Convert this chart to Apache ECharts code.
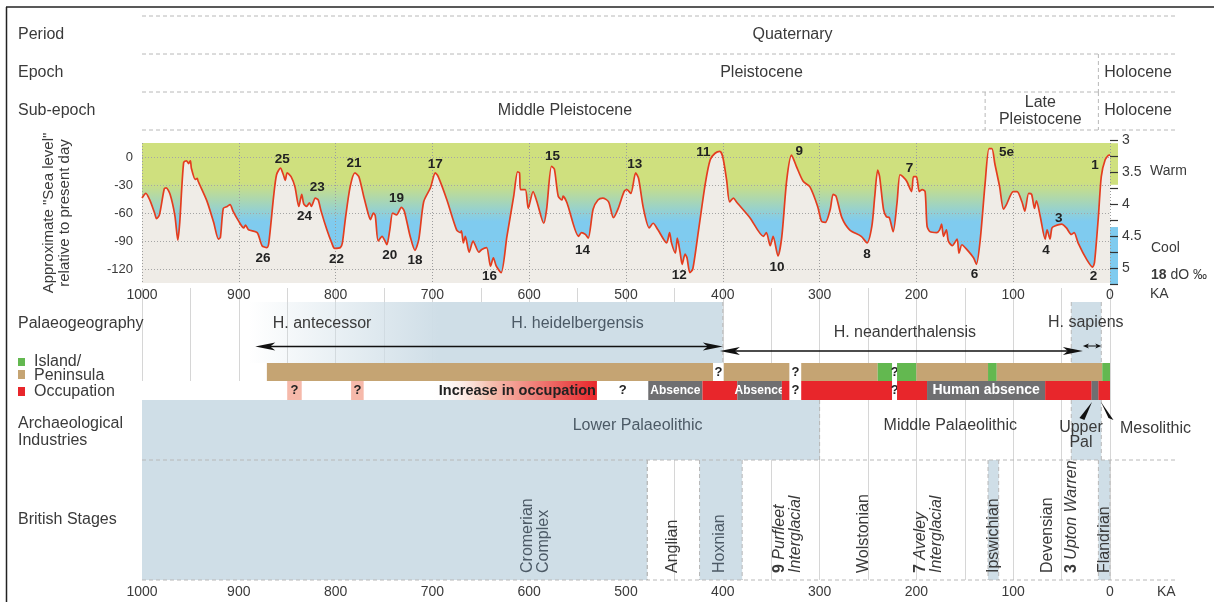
<!DOCTYPE html>
<html>
<head>
<meta charset="utf-8">
<script src="https://cdn.jsdelivr.net/npm/echarts@6.0.0/dist/echarts.min.js"></script>
<style>
html,body{margin:0;padding:0;background:#fff;}
#chart{width:1214px;height:602px;}
</style>
</head>
<body>
<div id="chart"></div>
<script>
// ================= DATA =================
const kaTicks = [1000, 900, 800, 700, 600, 500, 400, 300, 200, 100, 0];
const gridKa = [1000, 950, 900, 850, 800, 750, 700, 650, 600, 550, 500, 450, 400, 350, 300, 250, 200, 150, 100, 50, 0];
const seaLevelTicks = [-120, -90, -60, -30, 0];
const d18OTicks = [3, 3.5, 4, 4.5, 5];

// [ka, approximate sea level (m) relative to present day]
const seaLevelCurve = [
 [1000,-44],[996,-39],[992,-46],[987,-60],[985,-66],[982,-62],[977,-34],[975,-33],[971,-40],[966,-63],
 [963,-89],[961,-70],[957,-6],[954,-4],[952,-7],[950,-4],[949,-12],[945,-24],[943,-23],[942,-26],
 [933,-47],[926,-70],[921,-88],[919,-86],[916,-55],[912,-53],[909,-51],[906,-58],[900,-69],[895,-76],
 [893,-73],[890,-78],[881,-81],[876,-95],[871,-97],[869,-92],[864,-42],[861,-19],[857,-12],[854,-19],
 [852,-25],[850,-17],[846,-21],[842,-32],[838,-53],[835,-40],[833,-50],[830,-53],[827,-49],[825,-53],
 [821,-44],[818,-46],[815,-58],[809,-78],[804,-92],[801,-98],[795,-97],[793,-92],[790,-67],[785,-32],
 [780,-17],[776,-21],[771,-42],[766,-62],[764,-67],[761,-60],[759,-63],[756,-90],[752,-85],[749,-90],
 [747,-94],[744,-78],[741,-60],[737,-62],[732,-54],[729,-58],[723,-85],[718,-100],[714,-88],[709,-48],
 [702,-33],[697,-17],[694,-21],[685,-46],[675,-78],[671,-81],[670,-79],[668,-92],[666,-85],[662,-102],
 [658,-90],[652,-102],[649,-99],[644,-97],[640,-117],[637,-108],[634,-117],[629,-124],[623,-85],[616,-42],
 [612,-16],[610,-17],[609,-35],[604,-35],[601,-55],[596,-37],[592,-48],[585,-71],[582,-56],[577,-10],
 [574,-13],[570,-42],[566,-46],[565,-42],[561,-49],[549,-85],[546,-81],[542,-83],[539,-87],[534,-56],
 [529,-46],[524,-44],[518,-48],[513,-65],[508,-55],[502,-37],[499,-35],[495,-39],[490,-17],[487,-23],
 [482,-55],[476,-76],[472,-71],[467,-78],[458,-92],[455,-81],[453,-92],[449,-103],[447,-87],[444,-103],
 [442,-115],[439,-104],[437,-108],[434,-124],[431,-120],[425,-78],[418,-28],[413,-3],[408,4],[403,6],
 [400,0],[396,-25],[393,-48],[389,-44],[386,-48],[372,-65],[358,-85],[355,-81],[351,-95],[348,-85],
 [343,-106],[339,-85],[334,-25],[329,2],[324,-10],[317,-26],[310,-32],[302,-53],[298,-69],[294,-70],
 [289,-56],[286,-40],[283,-42],[277,-65],[269,-78],[257,-85],[251,-92],[246,-74],[243,-42],[240,-14],
 [238,-21],[234,-56],[231,-64],[228,-65],[224,-80],[220,-49],[217,-19],[214,-21],[210,-26],[205,-37],
 [203,-21],[200,-21],[197,-37],[194,-35],[191,-37],[189,-74],[186,-80],[179,-81],[176,-78],[174,-72],
 [172,-85],[169,-78],[167,-90],[163,-95],[158,-88],[156,-103],[153,-94],[148,-99],[141,-108],[138,-115],
 [134,-88],[129,-28],[125,9],[122,9],[119,-7],[114,-32],[110,-56],[107,-51],[100,-37],[96,-37],
 [91,-48],[88,-58],[84,-39],[81,-40],[78,-55],[76,-47],[72,-64],[67,-88],[65,-78],[62,-88],
 [60,-76],[57,-74],[50,-72],[45,-76],[40,-83],[37,-81],[33,-92],[24,-110],[18,-118],[16,-113],
 [12,-64],[9,-21],[5,-3],[1,2],[0,2]
];

// Marine isotope stage labels: name, ka, sea level position
const misNames = ['25','26','24','23','21','22','20','19','18','17','16','15','14','13','12','11','10','9','8','7','6','5e','4','3','2','1'];
const misKa    = [855, 875, 832, 819, 781, 799, 744, 737, 718, 697, 641, 576, 545, 491, 445, 420, 344, 321, 251, 207, 140, 107, 66, 53, 17, 15.5];
const misLevel = [-2.5, -108, -63.5, -32.5, -7, -110, -105, -44, -111, -8, -127.5, 0.3, -100, -7.5, -127, 4.6, -118.6, 5.7, -104, -12, -125.4, 4.6, -99.6, -65.7, -128, -8.6];

// d18O scale colour bands (warm / cool)
const warmBand = [3.05, 3.70];
const coolBand = [4.36, 5.25];

// Geological time table (ka)
const periodCells   = [{name:'Quaternary', from:1000, to:-67.15, at:328}];
const epochCells    = [{name:'Pleistocene', from:1000, to:12, at:360}, {name:'Holocene', from:12, to:-67.15, at:-29}];
const subEpochCells = [{name:'Middle Pleistocene', from:1000, to:129, at:563}, {name:'Late\nPleistocene', from:129, to:12, at:72}, {name:'Holocene', from:12, to:-67.15, at:-29}];

// Hominins
const hominins = [
  {name:'H. antecessor', at:814},
  {name:'H. heidelbergensis', at:550},
  {name:'H. neanderthalensis', at:212},
  {name:'H. sapiens', at:25}
];
const heidelbergRange = {from:890, to:400};
const sapiensRange = {from:40, to:9};
const homininArrows = [{from:883, to:400}, {from:403, to:28}, {from:28, to:9}];

// Palaeogeography: Island / Peninsula
const geography = [
  {from:871, to:410, state:'peninsula'}, {from:410, to:399, state:'unknown'},
  {from:399, to:331, state:'peninsula'}, {from:331, to:319, state:'unknown'},
  {from:319, to:240, state:'peninsula'}, {from:240, to:225, state:'island'},
  {from:225, to:220, state:'unknown'},   {from:220, to:200, state:'island'},
  {from:200, to:126, state:'peninsula'}, {from:126, to:117, state:'island'},
  {from:117, to:8, state:'peninsula'},   {from:8, to:0, state:'island'}
];

// Occupation
const occupation = [
  {from:850, to:835, state:'uncertain'},
  {from:784, to:771, state:'uncertain'},
  {from:703, to:530, state:'increase', label:'Increase in occupation'},
  {from:530, to:477, state:'unknown'},
  {from:477, to:421, state:'absent', label:'Absence'},
  {from:421, to:385, state:'present'},
  {from:385, to:339, state:'absent', label:'Absence'},
  {from:339, to:331, state:'present'},
  {from:331, to:319, state:'unknown'},
  {from:319, to:225, state:'present'},
  {from:225, to:220, state:'unknown'},
  {from:220, to:189, state:'present'},
  {from:189, to:67, state:'absent', label:'Human absence'},
  {from:67, to:19, state:'present'},
  {from:19, to:12, state:'absent'},
  {from:12, to:0, state:'present'}
];

// Archaeological industries
const industries = [
  {name:'Lower Palaeolithic', from:1000, to:300, at:488, boxed:true},
  {name:'Middle Palaeolithic', from:300, to:40, at:165},
  {name:'Upper\nPal', from:40, to:12, at:30},
  {name:'Mesolithic', from:12, to:0, at:-47}
];
const industryPointers = [{tip:18.6, base:29}, {tip:9.3, base:-1}];

// British stages
const stages = [
  {name:'Cromerian\nComplex', at:593, from:1000, to:478, warm:true},
  {name:'Anglian', at:452, from:478, to:424},
  {name:'Hoxnian', at:403, from:424, to:380, warm:true},
  {name:'{b|9} {i|Purfleet}\n{i|Interglacial}', at:333},
  {name:'Wolstonian', at:255},
  {name:'{b|7} {i|Aveley}\n{i|Interglacial}', at:187},
  {name:'Ipswichian', at:120.5, from:126, to:115, warm:true},
  {name:'Devensian', at:64},
  {name:'{b|3} {i|Upton Warren}', at:40},
  {name:'Flandrian', at:6, from:12, to:0, warm:true}
];

// ================= LAYOUT / STYLE =================
const KA_END = -67.15;                 // right end of the tables
const FONT = '"Liberation Sans", Arial, Helvetica, sans-serif';
const TXT = '#3a3a3a';
const SLATE = '#4c5a66';
const C = {blue:'#cfdee7', tan:'#c5a473', green:'#63b850', red:'#e8262b', gray:'#6f6f71',
           salmon:'#f6b9aa', dash:'#b8b8b8', warm:'#cfe07e', cool:'#7fcbef', fill:'#efece7', line:'#e43d1f'};
// lower panel rows (axis units, 0 = top of lower panel)
const R = {hTop:14, geoTop:75, geoBot:93, occTop:93, occBot:112, indTop:112, indBot:172, stTop:172, stBot:292};
const HOM_Y = [36, 36, 45, 35];
const ARROW_Y = [58.5, 63, 58];
const ARROW_HEAD = [20, 20, 6];

const f = (size, weight, style) => `${style || 'normal'} ${weight || 'normal'} ${size}px ${FONT}`;
const dashStyle = {stroke: C.dash, lineWidth: 1, lineDash: [4, 3]};
const plainNumber = v => String(v);

function rect(api, a, b, y0, y1, style) {
  const p = api.coord([a, y0]), q = api.coord([b, y1]);
  return {type:'rect', shape:{x:Math.min(p[0],q[0]), y:Math.min(p[1],q[1]), width:Math.abs(q[0]-p[0]), height:Math.abs(q[1]-p[1])}, style};
}
function seg(api, a, y0, b, y1, style) {
  const p = api.coord([a, y0]), q = api.coord([b, y1]);
  return {type:'line', shape:{x1:p[0], y1:p[1], x2:q[0], y2:q[1]}, style};
}
function label(api, ka, y, text, o) {
  o = o || {};
  const p = api.coord([ka, y]);
  const al = o.align || 'center';
  const st = {text, font: f(o.size || 16, o.weight, o.italic), fill: o.color || TXT,
    textAlign: al, align: al, textVerticalAlign: 'middle', verticalAlign: 'middle', lineHeight: o.lineHeight || 17};
  if (o.rich) st.rich = o.rich;
  return {type:'text', x:p[0] + (o.dx || 0), y:p[1] + (o.dy || 0), rotation: o.rotation || 0, style: st};
}
function layer(gi, items, draw, z) {
  return {type:'custom', coordinateSystem:'cartesian2d', xAxisIndex:gi, yAxisIndex:gi, z:z, silent:true, clip:false, animation:false,
    data: items.map((_, i) => [i, 0]),
    renderItem: (params, api) => ({type:'group', children: [].concat(draw(items[params.dataIndex], api, params.dataIndex) || [])})};
}

// ================= SERIES =================
const series = [];

// --- sea level curve (grid 0)
series.push({type:'line', xAxisIndex:0, yAxisIndex:0, data:seaLevelCurve, symbol:'none', smooth:0.25, silent:true, animation:false,
  lineStyle:{width:0, opacity:0}, areaStyle:{color:C.fill, opacity:1, origin:'start'}, z:2});
series.push({type:'line', xAxisIndex:0, yAxisIndex:0, data:seaLevelCurve, symbol:'none', smooth:0.25, silent:true, animation:false,
  lineStyle:{color:C.line, width:1.7}, z:5});
series.push(layer(0, misNames, (n, api, i) => label(api, misKa[i], misLevel[i], n, {size:13.5, weight:'bold', color:'#222'}), 6));

// --- d18O colour bar (grid 1)
series.push(layer(1, [warmBand, coolBand], (b, api, i) => rect(api, 0, 1, b[0], b[1], {fill: i === 0 ? C.warm : C.cool}), 1));

// --- time table (grid 2)
const tableRows = [periodCells, epochCells, subEpochCells];
series.push(layer(2, [0, 1, 2, 3], (r, api) => seg(api, 1000, r, KA_END, r, dashStyle), 2));
series.push(layer(2, tableRows, (cells, api, r) => {
  const out = [];
  cells.forEach(c => {
    out.push(label(api, c.at, r + 0.5, c.name, {size:16, lineHeight:17}));
    if (c.to > KA_END) out.push(seg(api, c.to, r, c.to, r + 1, dashStyle));
  });
  return out;
}, 3));

// --- lower panel (grid 3)
// white row behind occupation
series.push(layer(3, [0], (d, api) => rect(api, 1000, 0, R.occTop, R.occBot, {fill:'#fff'}), 1));
// hominin boxes
series.push(layer(3, [heidelbergRange], (d, api) => [
  rect(api, d.from, d.to, R.hTop, R.geoTop, {fill: new echarts.graphic.LinearGradient(0, 0, 1, 0, [
    {offset:0, color:'rgba(207,222,231,0)'}, {offset:0.4, color:C.blue}, {offset:1, color:C.blue}])}),
  seg(api, d.to, R.hTop, d.to, R.geoTop, dashStyle)
], 1));
series.push(layer(3, [sapiensRange], (d, api) => [
  rect(api, d.from, d.to, R.hTop, R.indBot, {fill:C.blue}),
  seg(api, d.from, R.hTop, d.from, R.indBot, dashStyle),
  seg(api, d.to, R.hTop, d.to, R.indBot, dashStyle)
], 1));
// industries boxes
series.push(layer(3, industries.filter(d => d.boxed), (d, api) => [
  rect(api, d.from, d.to, R.indTop, R.indBot, {fill:C.blue}),
  seg(api, d.to, R.indTop, d.to, R.indBot, dashStyle)
], 1));
// stage boxes + boundaries
series.push(layer(3, stages.filter(d => d.from !== undefined), (d, api) => {
  const out = [];
  if (d.warm) out.push(rect(api, d.from, d.to, R.stTop, R.stBot, {fill:C.blue}));
  if (d.from < 1000) out.push(seg(api, d.from, R.stTop, d.from, R.stBot, dashStyle));
  out.push(seg(api, d.to, R.stTop, d.to, R.stBot, dashStyle));
  return out;
}, 1));
// stage horizontal dashed lines
series.push(layer(3, [R.stTop, R.stBot], (y, api) => seg(api, 1000, y, KA_END, y, dashStyle), 2));

// geography bar
series.push(layer(3, geography, (d, api) => {
  if (d.state === 'unknown') return [
    rect(api, d.from, d.to, R.geoTop, R.geoBot, {fill:'#fff'}),
    label(api, (d.from + d.to) / 2, (R.geoTop + R.geoBot) / 2, '?', {size:13, weight:'bold', color:'#222'})];
  return rect(api, d.from, d.to, R.geoTop, R.geoBot, {fill: d.state === 'island' ? C.green : C.tan});
}, 3));
// occupation bar
series.push(layer(3, occupation, (d, api) => {
  const yc = (R.occTop + R.occBot) / 2;
  const mid = (d.from + d.to) / 2;
  if (d.state === 'unknown') return [
    rect(api, d.from, d.to, R.occTop, R.occBot, {fill:'#fff'}),
    label(api, mid, yc, '?', {size:13, weight:'bold', color:'#222'})];
  if (d.state === 'uncertain') return [
    rect(api, d.from, d.to, R.occTop, R.occBot, {fill:C.salmon}),
    label(api, mid, yc, '?', {size:13, weight:'bold', color:'#222'})];
  if (d.state === 'increase') return [
    rect(api, d.from, d.to, R.occTop, R.occBot, {fill: new echarts.graphic.LinearGradient(0, 0, 1, 0, [
      {offset:0, color:'rgba(255,255,255,0)'}, {offset:0.35, color:'#f6c3b3'}, {offset:1, color:C.red}])}),
    label(api, d.to, yc, d.label, {size:14.5, weight:'bold', color:'#222', align:'right', dx:-1})];
  const out = [rect(api, d.from, d.to, R.occTop, R.occBot, {fill: d.state === 'absent' ? C.gray : C.red})];
  if (d.label) out.push(label(api, mid, yc, d.label, {size: d.label.length > 8 ? 14 : 12, weight:'bold', color:'#fff'}));
  return out;
}, 3));

// hominin names
series.push(layer(3, hominins, (d, api, i) => label(api, d.at, HOM_Y[i], d.name, {size:16, color: i === 1 ? SLATE : TXT}), 4));
// hominin arrows
series.push(layer(3, homininArrows, (d, api, i) => {
  const a = api.coord([d.from, ARROW_Y[i]]), b = api.coord([d.to, ARROW_Y[i]]);
  const h = ARROW_HEAD[i], w = i === 2 ? 2.5 : 4;
  const lw = i === 2 ? 1 : 1.6;
  return [
    {type:'line', shape:{x1:a[0] + h * 0.6, y1:a[1], x2:b[0] - h * 0.6, y2:b[1]}, style:{stroke:'#111', lineWidth:lw}},
    {type:'polygon', shape:{points:[[a[0], a[1]], [a[0] + h, a[1] - w], [a[0] + h * 0.75, a[1]], [a[0] + h, a[1] + w]]}, style:{fill:'#111'}},
    {type:'polygon', shape:{points:[[b[0], b[1]], [b[0] - h, b[1] - w], [b[0] - h * 0.75, b[1]], [b[0] - h, b[1] + w]]}, style:{fill:'#111'}}
  ];
}, 4));
// industries text
series.push(layer(3, industries, (d, api, i) => {
  const y = i === 2 ? 147.5 : (i === 3 ? 141 : 138);
  return label(api, d.at, y, d.name, {size:16, lineHeight:15, color: d.boxed ? SLATE : TXT});
}, 4));
// industry pointers (wedges)
series.push(layer(3, industryPointers, (d, api) => {
  const t = api.coord([d.tip, R.indTop + 2]), b = api.coord([d.base, R.indTop + 19]);
  return {type:'polygon', shape:{points:[[t[0], t[1]], [b[0] - 2.5, b[1] - 1], [b[0] + 2.5, b[1] + 1]]}, style:{fill:'#111'}};
}, 4));
// stage names (rotated)
const stageRich = {
  b: {fontSize:16, fontWeight:'bold', fontFamily:FONT, fill:TXT, color:TXT},
  i: {fontSize:16, fontStyle:'italic', fontFamily:FONT, fill:TXT, color:TXT}
};
series.push(layer(3, stages, (d, api) => label(api, d.at, R.stBot - 7, d.name, {
  size:16, lineHeight:16, align:'left', rotation: Math.PI / 2, rich: stageRich,
  color: d.warm && d.at > 380 ? SLATE : TXT}), 4));

// ================= GRAPHIC (labels outside plots) =================
const g = [];
function gText(x, y, text, o) {
  o = o || {};
  const st = {text, font: f(o.size || 16, o.weight), fill: o.color || TXT, textAlign: o.align || 'left', align: o.align || 'left',
    textVerticalAlign:'middle', verticalAlign:'middle', lineHeight: o.lineHeight || 17};
  if (o.rich) st.rich = o.rich;
  g.push({type:'text', x, y, rotation: o.rotation || 0, style: st, z: 10});
}
g.push({type:'line', shape:{x1:6.5, y1:7, x2:6.5, y2:602}, style:{stroke:'#222', lineWidth:1.5}, z:10});
g.push({type:'line', shape:{x1:6, y1:7, x2:1214, y2:7}, style:{stroke:'#222', lineWidth:1.5}, z:10});
gText(18, 35, 'Period');
gText(18, 73, 'Epoch');
gText(18, 111, 'Sub-epoch');
gText(57, 213, 'Approximate "Sea level"\nrelative to present day', {align:'center', rotation:Math.PI / 2, size:15, lineHeight:16});
gText(1150, 171, 'Warm', {size:14});
gText(1151, 248, 'Cool', {size:14});
gText(1151, 275, '{b|18} dO ‰', {size:14, rich:{b:{fontSize:14, fontWeight:'bold', fontFamily:FONT, fill:TXT, color:TXT}}});
gText(1150, 294, 'KA', {size:14});
gText(18, 324, 'Palaeogeography');
g.push({type:'rect', shape:{x:18, y:358, width:7, height:8}, style:{fill:C.green}, z:10});
g.push({type:'rect', shape:{x:18, y:370, width:7, height:9}, style:{fill:C.tan}, z:10});
g.push({type:'rect', shape:{x:18, y:387, width:7, height:9}, style:{fill:C.red}, z:10});
gText(34, 362, 'Island/');
gText(34, 376, 'Peninsula');
gText(34, 392, 'Occupation');
gText(18, 432, 'Archaeological\nIndustries', {lineHeight:17});
gText(18, 520, 'British Stages');
gText(1157, 592, 'KA', {size:14});

// ================= OPTION =================
const axisText = {color: TXT, fontFamily: FONT};
const option = {
  animation: false,
  backgroundColor: '#fff',
  grid: [
    {left:142, top:143, width:968, height:140, show:true, borderWidth:0,
      backgroundColor: new echarts.graphic.LinearGradient(0, 0, 0, 1, [
        {offset:0, color:C.warm}, {offset:0.28, color:C.warm}, {offset:0.56, color:C.cool}, {offset:1, color:C.cool}])},
    {left:1110, top:140, width:8, height:144},
    {left:142, top:16, width:1033, height:114},
    {left:142, top:288, width:1033, height:292}
  ],
  xAxis: [
    {gridIndex:0, type:'value', min:0, max:1000, interval:100, inverse:true, z:3,
      axisLine:{show:false}, axisTick:{show:false},
      axisLabel:Object.assign({fontSize:14, margin:5, formatter:plainNumber}, axisText),
      splitLine:{show:true, lineStyle:{color:'#9d9d9d', type:[1, 2], width:1}}},
    {gridIndex:1, type:'value', min:0, max:1, show:false},
    {gridIndex:2, type:'value', min:KA_END, max:1000, inverse:true, show:false},
    {gridIndex:3, type:'value', min:KA_END, max:1000, inverse:true,
      axisLine:{show:false}, axisTick:{show:false, customValues:gridKa},
      axisLabel:Object.assign({fontSize:14, margin:5, customValues:kaTicks, formatter:plainNumber}, axisText),
      splitLine:{show:true, lineStyle:{color:'#d6d6d6', width:1}}}
  ],
  yAxis: [
    {gridIndex:0, type:'value', min:-135, max:15, z:3,
      axisLine:{show:false}, axisTick:{show:false, customValues:seaLevelTicks},
      axisLabel:Object.assign({fontSize:13, margin:9, customValues:seaLevelTicks}, axisText),
      splitLine:{show:true, lineStyle:{color:'#a5a5a5', type:[1, 2], width:1}}},
    {gridIndex:1, type:'value', min:3, max:5.25, interval:0.25, inverse:true, position:'left', z:3,
      axisLine:{show:false},
      axisTick:{show:true, inside:true, length:8, lineStyle:{color:'#333', width:1.2}},
      axisLabel:Object.assign({fontSize:14, inside:true, margin:12, customValues:d18OTicks}, axisText),
      splitLine:{show:false}},
    {gridIndex:2, type:'value', min:0, max:3, inverse:true, show:false},
    {gridIndex:3, type:'value', min:0, max:292, inverse:true, show:false}
  ],
  graphic: g,
  series: series
};

const chart = echarts.init(document.getElementById('chart'), null, {renderer:'canvas'});
chart.setOption(option);
</script>
</body>
</html>
